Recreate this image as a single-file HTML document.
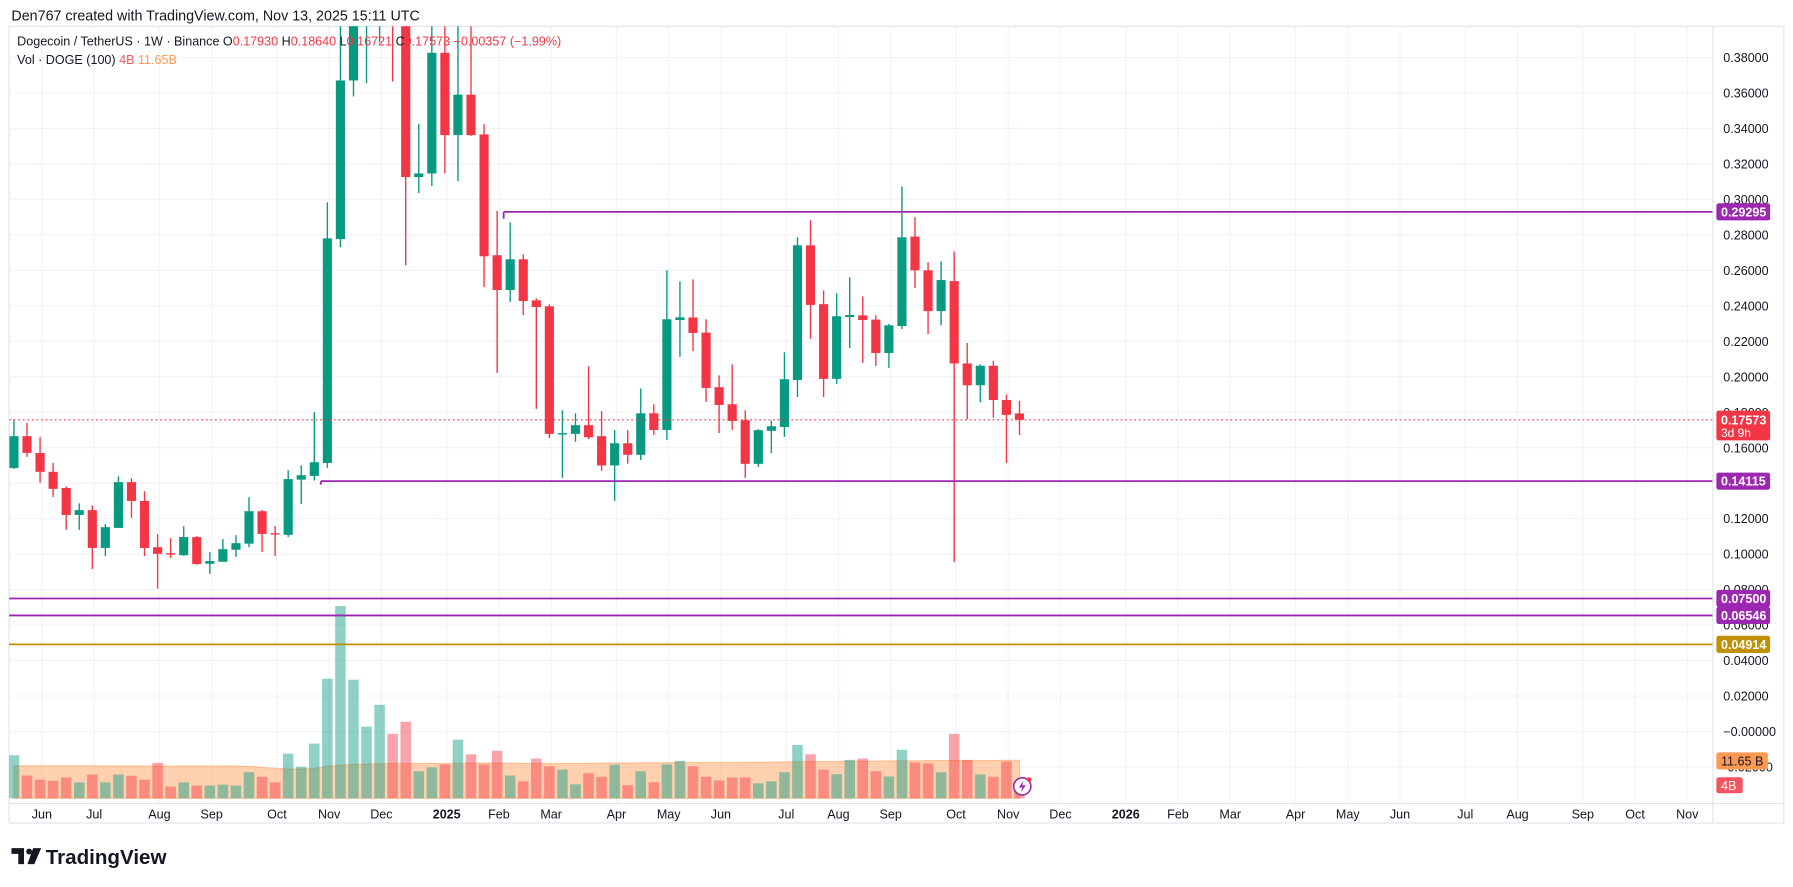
<!DOCTYPE html>
<html><head><meta charset="utf-8"><style>
html,body{margin:0;padding:0;background:#fff;}
svg{display:block;font-family:"Liberation Sans",sans-serif;}
</style></head><body>
<svg id="chart" width="1793" height="887" viewBox="0 0 1568 776" preserveAspectRatio="none" xmlns="http://www.w3.org/2000/svg">
<defs><clipPath id="plotclip"><rect x="8" y="23" width="1490" height="680"/></clipPath></defs>
<rect x="0" y="0" width="1568" height="776" fill="#fff"/>
<text x="10" y="18" font-size="12.5" fill="#131722">Den767 created with TradingView.com, Nov 13, 2025 15:11 UTC</text>
<rect x="8" y="23" width="1552" height="697" fill="none" stroke="#e0e3eb" stroke-width="1"/>
<g id="grid"></g>
<g id="vol" clip-path="url(#plotclip)"></g>
<g id="candles" clip-path="url(#plotclip)"></g>
<g id="hlines"></g>
<g id="yaxis"></g>
<g id="xaxis"></g>
<g id="tags"></g>
<g font-size="11">
<text x="15" y="40" fill="#131722">Dogecoin / TetherUS · 1W · Binance <tspan fill="#131722">O</tspan><tspan fill="#f23645">0.17930</tspan> <tspan fill="#131722">H</tspan><tspan fill="#f23645">0.18640</tspan> <tspan fill="#131722">L</tspan><tspan fill="#f23645">0.16721</tspan> <tspan fill="#131722">C</tspan><tspan fill="#f23645">0.17573</tspan> <tspan fill="#f23645">−0.00357 (−1.99%)</tspan></text>
<text x="15" y="56" fill="#131722">Vol · DOGE (100) <tspan fill="#f7525f">4B</tspan> <tspan fill="#ff9850">11.65B</tspan></text>
</g>
<g>
<circle cx="894" cy="688" r="7.5" fill="#fff" stroke="#9c27b0" stroke-width="1.4"/>
<path d="M895 683 L891 689 L894 689 L893 693 L897 687 L894 687 Z" fill="#9c27b0"/>
<circle cx="900" cy="682" r="2" fill="#f23645"/>
</g>
<g>
<path d="M10 742 h11 v14 h-5 v-9 h-6 z" fill="#131722"/>
<circle cx="25.5" cy="745" r="2.6" fill="#131722"/>
<path d="M29 742 h7 l-6 14 h-6 z" fill="#131722"/>
<text x="40" y="756" font-size="18" font-weight="bold" fill="#131722">TradingView</text>
</g>
<script>
const opens  =[.1486,.1665,.157,.1464,.1373,.1221,.1248,.1035,.1148,.1406,.130,.1039,.1005,.0994,.1096,.0946,.0957,.1025,.1059,.1242,.1118,.1109,.1420,.1441,.1514,.2776,.367,.405,.435,.44,.40,.3126,.3146,.3826,.3362,.359,.3366,.2685,.2489,.2662,.2431,.2397,.1678,.1678,.1727,.1665,.150,.1625,.156,.1794,.170,.232,.2334,.2249,.1941,.1845,.1755,.1509,.1695,.1717,.1982,.2741,.2409,.1988,.2337,.2346,.2322,.2134,.2286,.279,.260,.237,.2539,.2075,.1952,.2062,.1869,.1793];
const highs  =[.1759,.174,.1661,.1514,.1383,.1286,.1274,.1169,.1439,.1428,.1355,.1113,.109,.1158,.1102,.1011,.1085,.1107,.1321,.1249,.1158,.1473,.1501,.18,.2983,.40,.43,.48,.484,.47,.43,.3426,.42,.41,.42,.41,.3423,.2934,.287,.269,.2442,.2408,.1811,.1794,.2059,.1806,.1699,.1699,.1934,.1845,.26,.2538,.2549,.2324,.2008,.207,.1811,.1704,.1755,.2138,.2786,.2882,.2487,.247,.2561,.2453,.2346,.2297,.3073,.29,.2645,.265,.2706,.219,.207,.209,.19,.1864];
const lows   =[.148,.1548,.1402,.1323,.1137,.1137,.0917,.099,.1148,.1205,.099,.0805,.0979,.099,.094,.0889,.0957,.0985,.1039,.1013,.099,.1097,.1283,.1415,.1486,.2731,.358,.3655,.3886,.3664,.2628,.3036,.3075,.3146,.3103,.3358,.2506,.2021,.2421,.2348,.1819,.1655,.143,.1633,.1648,.147,.130,.151,.153,.1672,.1644,.2112,.2145,.1858,.1683,.17,.143,.1492,.157,.1661,.1886,.2213,.1886,.1959,.2162,.2078,.2061,.205,.2269,.25,.224,.229,.0954,.176,.1856,.177,.1514,.16721];
const closes =[.1665,.1571,.1464,.1368,.1221,.1248,.1035,.1152,.1406,.130,.1035,.1002,.1002,.1096,.0944,.0961,.1028,.1062,.1242,.1114,.1114,.1423,.1445,.1518,.278,.367,.405,.435,.44,.40,.3126,.3146,.3826,.3362,.359,.3362,.2679,.2489,.2662,.2427,.2393,.1678,.1682,.1727,.1659,.150,.1625,.156,.1794,.170,.2324,.2335,.2247,.1937,.1841,.1751,.1509,.1699,.1721,.1986,.2741,.2405,.1988,.2341,.2348,.232,.2134,.229,.2786,.260,.237,.2545,.2075,.1952,.2062,.1869,.1785,.17573];
const volumes=[13.2,7.0,5.7,5.4,6.4,4.9,7.3,4.9,7.3,6.9,5.7,10.9,3.6,4.9,3.9,3.9,4.2,3.9,8.0,6.6,4.9,13.7,9.7,16.8,36.7,59.0,36.4,22.0,28.7,19.8,23.5,8.3,9.5,10.4,18.0,13.5,10.4,14.6,7.0,5.2,12.2,9.8,8.8,4.3,7.7,6.6,10.3,4.0,8.3,4.9,10.4,11.5,9.8,6.6,5.5,6.4,6.4,4.6,5.2,8.0,16.4,13.5,8.8,7.4,11.8,12.2,8.3,6.7,14.9,11.0,10.7,8.0,19.8,11.8,7.3,6.6,11.3,4.0];
const volMA  =[10.0,10.0,10.0,10.0,10.0,10.0,10.0,9.9,9.9,9.9,9.9,9.9,9.9,9.9,9.9,9.9,9.9,9.9,9.8,9.5,9.2,9.0,9.0,9.2,9.8,10.2,10.4,10.5,10.6,10.7,10.7,10.7,10.7,10.7,10.7,10.8,10.8,10.8,10.8,10.7,10.7,10.7,10.7,10.7,10.7,10.8,10.8,10.8,10.9,10.9,10.9,11.0,11.0,11.0,11.0,11.0,11.0,11.1,11.1,11.2,11.2,11.3,11.3,11.3,11.4,11.4,11.4,11.5,11.5,11.5,11.6,11.6,11.6,11.6,11.6,11.6,11.65,11.65];
const priceTicks=[0.38,0.36,0.34,0.32,0.30,0.28,0.26,0.24,0.22,0.20,0.18,0.16,0.14,0.12,0.10,0.08,0.06,0.04,0.02,0.00,-0.02];
const levelPrices=[0.29295,0.14115,0.075,0.06546,0.04914];
const levelStartIdx=[37.5,23.5,-1,-1,-1];
const levelColors=["#9c27b0","#9c27b0","#9c27b0","#9c27b0","#bf9000"];
const lastPrice=0.17573;
const monthLabels=["Jun","Jul","Aug","Sep","Oct","Nov","Dec","2025","Feb","Mar","Apr","May","Jun","Jul","Aug","Sep","Oct","Nov","Dec","2026","Feb","Mar","Apr","May","Jun","Jul","Aug","Sep","Oct","Nov"];

const NS="http://www.w3.org/2000/svg";
const firstWeek=Date.UTC(2024,4,27);
function x(i){return 12.2+11.42*i;}
function y(p){return 640-1552*p;}
function vy(v){return 698.4-2.85*v;}
function mk(tag,attrs,parent){const e=document.createElementNS(NS,tag);for(const k in attrs)e.setAttribute(k,attrs[k]);parent.appendChild(e);return e;}
const G=id=>document.getElementById(id);

// grid + y axis
priceTicks.forEach((p,k)=>{
  const l=mk('line',{x1:8,x2:1498,y1:y(p),y2:y(p),stroke:'#f0f3fa','stroke-width':1},G('grid'));
  
  
  const t=mk('text',{x:1507,y:y(p)+4,'font-size':11,fill:'#131722'},G('yaxis'));
  
  
  t.textContent=(p<=0&&p>-0.001?'−0.00000':p.toFixed(5));
});
// x axis
let mi=0;
for(let yr=2024;yr<=2026;yr++){for(let m=(yr===2024?5:0);m<(yr===2026?11:12);m++){
  let d=new Date(Date.UTC(yr,m,1));while(d.getUTCDay()!==1)d=new Date(d.getTime()+86400000);
  const idx=(d.getTime()-firstWeek)/(7*86400000);
  const cx=x(idx)+13;
  const gl=mk('line',{x1:cx,x2:cx,y1:23,y2:703,stroke:'#f0f3fa','stroke-width':1},G('grid'));
  
  
  const lab=monthLabels[mi++];
  const t=mk('text',{x:cx,y:716,'font-size':11,'text-anchor':'middle',fill:'#131722','font-weight':(lab.length===4?'bold':'normal')},G('xaxis'));
  
  
  t.textContent=lab;
}}
mk('line',{x1:8,x2:1560,y1:703,y2:703,stroke:'#e0e3eb'},G('xaxis'));
mk('line',{x1:1498,x2:1498,y1:23,y2:720,stroke:'#e0e3eb'},G('yaxis'));

// volume MA area
let d='M'+x(0)+' '+vy(0);
volMA.forEach((v,i)=>{d+=' L'+x(i)+' '+vy(v);});
d+=' L'+x(volMA.length-1)+' '+vy(0)+' Z';
const ma=mk('path',{d:d,fill:'rgba(255,152,80,0.45)',stroke:'rgba(255,152,80,0.5)','stroke-width':1},G('vol'));


volumes.forEach((v,i)=>{
  const up=closes[i]>=opens[i];
  const r=mk('rect',{x:x(i)-4.6,y:vy(v),width:9.2,height:vy(0)-vy(v),fill:up?'rgba(8,153,129,0.45)':'rgba(242,54,69,0.45)'},G('vol'));
  
  
});
// candles
opens.forEach((o,i)=>{
  const c=closes[i],up=c>=o,col=up?'#089981':'#f23645';
  const g=mk('g',{},G('candles'));
  
  
  mk('line',{x1:x(i),x2:x(i),y1:y(highs[i]),y2:y(lows[i]),stroke:col,'stroke-width':1.2},g);
  const top=y(Math.max(o,c)),bot=y(Math.min(o,c));
  mk('rect',{x:x(i)-4,y:top,width:8,height:Math.max(1.2,bot-top),fill:col},g);
});
// last price dotted line
const lp=mk('line',{x1:8,x2:1498,y1:y(lastPrice),y2:y(lastPrice),stroke:'#f23645','stroke-width':1,'stroke-dasharray':'1.5 2.5'},G('hlines'));


// level lines
levelPrices.forEach((p,k)=>{
  const x1=levelStartIdx[k]<0?8:x(levelStartIdx[k]);
  const l=mk('line',{x1:x1,x2:1498,y1:y(p),y2:y(p),stroke:levelColors[k],'stroke-width':1.6},G('hlines'));
  
  
  if(levelStartIdx[k]>=0)mk('line',{x1:x1,x2:x1,y1:y(p),y2:y(p)+(k===0?6:3),stroke:levelColors[k],'stroke-width':1.6},G('hlines'));
  const t=mk('g',{},G('tags'));
  
  
  mk('rect',{x:1501,y:y(p)-7.5,width:47,height:15,rx:2,fill:levelColors[k]},t);
  const tx=mk('text',{x:1505,y:y(p)+4,'font-size':11,'font-weight':'bold',fill:'#fff'},t);
  tx.textContent=p.toFixed(5);
});
// last price tag
const lt=mk('g',{},G('tags'));


mk('rect',{x:1501,y:y(lastPrice)-8,width:47,height:26,rx:2,fill:'#f23645'},lt);
const lt1=mk('text',{x:1505,y:y(lastPrice)+4,'font-size':11,'font-weight':'bold',fill:'#fff'},lt);lt1.textContent=lastPrice.toFixed(5);
const lt2=mk('text',{x:1505,y:y(lastPrice)+15,'font-size':10.5,fill:'#fff'},lt);lt2.textContent='3d 9h';
// volume tags
const vt=mk('g',{},G('tags'));


mk('rect',{x:1501,y:vy(volMA[volMA.length-1])-7,width:45,height:15,rx:2,fill:'#ff9850'},vt);
const vt1=mk('text',{x:1505,y:vy(volMA[volMA.length-1])+4.5,'font-size':11,fill:'#131722'},vt);vt1.textContent='11.65 B';
const vt2g=mk('g',{},G('tags'));


mk('rect',{x:1501,y:680,width:23,height:14,rx:2,fill:'#f7525f'},vt2g);
const vt2=mk('text',{x:1505,y:691,'font-size':11,fill:'#fff'},vt2g);vt2.textContent='4B';
</script>
</svg>
</body></html>
